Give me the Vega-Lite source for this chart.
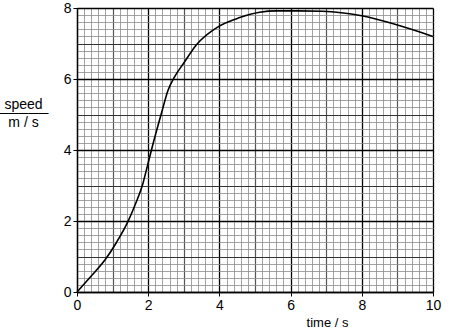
{
  "$schema": "https://vega.github.io/schema/vega-lite/v6.json",
  "width": 356,
  "height": 284,
  "autosize": {"type": "none"},
  "padding": {"left": 77, "top": 8, "right": 17, "bottom": 40},
  "background": "white",
  "config": {
    "view": {"stroke": null},
    "font": "Liberation Sans"
  },
  "data": {
    "values": [
      {"t": 0, "v": 0},
      {"t": 0.4, "v": 0.45},
      {"t": 0.8, "v": 0.92},
      {"t": 1.1, "v": 1.38},
      {"t": 1.43, "v": 1.98},
      {"t": 1.65, "v": 2.5},
      {"t": 1.85, "v": 3.05},
      {"t": 1.95, "v": 3.44},
      {"t": 2.14, "v": 4.19},
      {"t": 2.37, "v": 5.03},
      {"t": 2.56, "v": 5.69},
      {"t": 2.74, "v": 6.06},
      {"t": 3.0, "v": 6.45},
      {"t": 3.35, "v": 6.96},
      {"t": 3.96, "v": 7.47},
      {"t": 4.57, "v": 7.73},
      {"t": 5.13, "v": 7.88},
      {"t": 5.6, "v": 7.92},
      {"t": 6.2, "v": 7.92},
      {"t": 6.9, "v": 7.91},
      {"t": 8.0, "v": 7.78},
      {"t": 9.0, "v": 7.52},
      {"t": 10, "v": 7.2}
    ]
  },
  "mark": {"type": "line", "interpolate": "monotone", "color": "black", "strokeWidth": 1.6},
  "encoding": {
    "x": {
      "field": "t",
      "type": "quantitative",
      "scale": {"domain": [0, 10], "nice": false, "zero": false},
      "axis": {
        "values": [0,0.2,0.4,0.6,0.8,1,1.2,1.4,1.6,1.8,2,2.2,2.4,2.6,2.8,3,3.2,3.4,3.6,3.8,4,4.2,4.4,4.6,4.8,5,5.2,5.4,5.6,5.8,6,6.2,6.4,6.6,6.8,7,7.2,7.4,7.6,7.8,8,8.2,8.4,8.6,8.8,9,9.2,9.4,9.6,9.8,10],
        "grid": true,
        "gridColor": {"condition": [
          {"test": "round(datum.value*5) % 10 === 0", "value": "#000"},
          {"test": "round(datum.value*5) % 5 === 0", "value": "#555"}
        ], "value": "#8c8c8c"},
        "gridWidth": {"condition": [
          {"test": "round(datum.value*5) % 10 === 0", "value": 1.3},
          {"test": "round(datum.value*5) % 5 === 0", "value": 1.2}
        ], "value": 0.8},
        "gridOpacity": 1,
        "tickOpacity": {"condition": {"test": "round(datum.value*5) % 10 === 0", "value": 1}, "value": 0},
        "labelExpr": "round(datum.value*5) % 10 === 0 ? '' + round(datum.value) : ''",
        "labelOverlap": false,
        "labelFlush": false,
        "labelFontSize": 14,
        "labelColor": "black",
        "labelPadding": 2,
        "tickSize": 4,
        "tickColor": "black",
        "domainColor": "black",
        "domainWidth": 1.3,
        "title": "time / s",
        "titleFontSize": 13,
        "titleFontWeight": "normal",
        "titleColor": "black",
        "titleAnchor": "start",
        "titleAlign": "center",
        "titleBaseline": "alphabetic",
        "titleX": 250,
        "titleY": 34
      }
    },
    "y": {
      "field": "v",
      "type": "quantitative",
      "scale": {"domain": [0, 8], "nice": false, "zero": false},
      "axis": {
        "values": [0,0.2,0.4,0.6,0.8,1,1.2,1.4,1.6,1.8,2,2.2,2.4,2.6,2.8,3,3.2,3.4,3.6,3.8,4,4.2,4.4,4.6,4.8,5,5.2,5.4,5.6,5.8,6,6.2,6.4,6.6,6.8,7,7.2,7.4,7.6,7.8,8],
        "grid": true,
        "gridColor": {"condition": [
          {"test": "round(datum.value*5) % 10 === 0", "value": "#000"},
          {"test": "round(datum.value*5) % 5 === 0", "value": "#333"}
        ], "value": "#8c8c8c"},
        "gridWidth": {"condition": [
          {"test": "round(datum.value*5) % 10 === 0", "value": 1.3},
          {"test": "round(datum.value*5) % 5 === 0", "value": 1.1}
        ], "value": 0.8},
        "gridOpacity": 1,
        "tickOpacity": {"condition": {"test": "round(datum.value*5) % 10 === 0", "value": 1}, "value": 0},
        "labelExpr": "round(datum.value*5) % 10 === 0 ? '' + round(datum.value) : ''",
        "labelOverlap": false,
        "labelFlush": false,
        "labelFontSize": 14,
        "labelColor": "black",
        "labelPadding": 2,
        "labelBaseline": "middle",
        "tickSize": 4,
        "tickColor": "black",
        "domainColor": "black",
        "domainWidth": 1.3,
        "title": ["speed", "─────", "m / s"],
        "titleFontSize": 14,
        "titleFontWeight": "normal",
        "titleColor": "black",
        "titleAngle": 0,
        "titleAlign": "center",
        "titleBaseline": "alphabetic",
        "titleLineHeight": 9,
        "titleAnchor": "start",
        "titleX": -54,
        "titleY": 100
      }
    }
  }
}
